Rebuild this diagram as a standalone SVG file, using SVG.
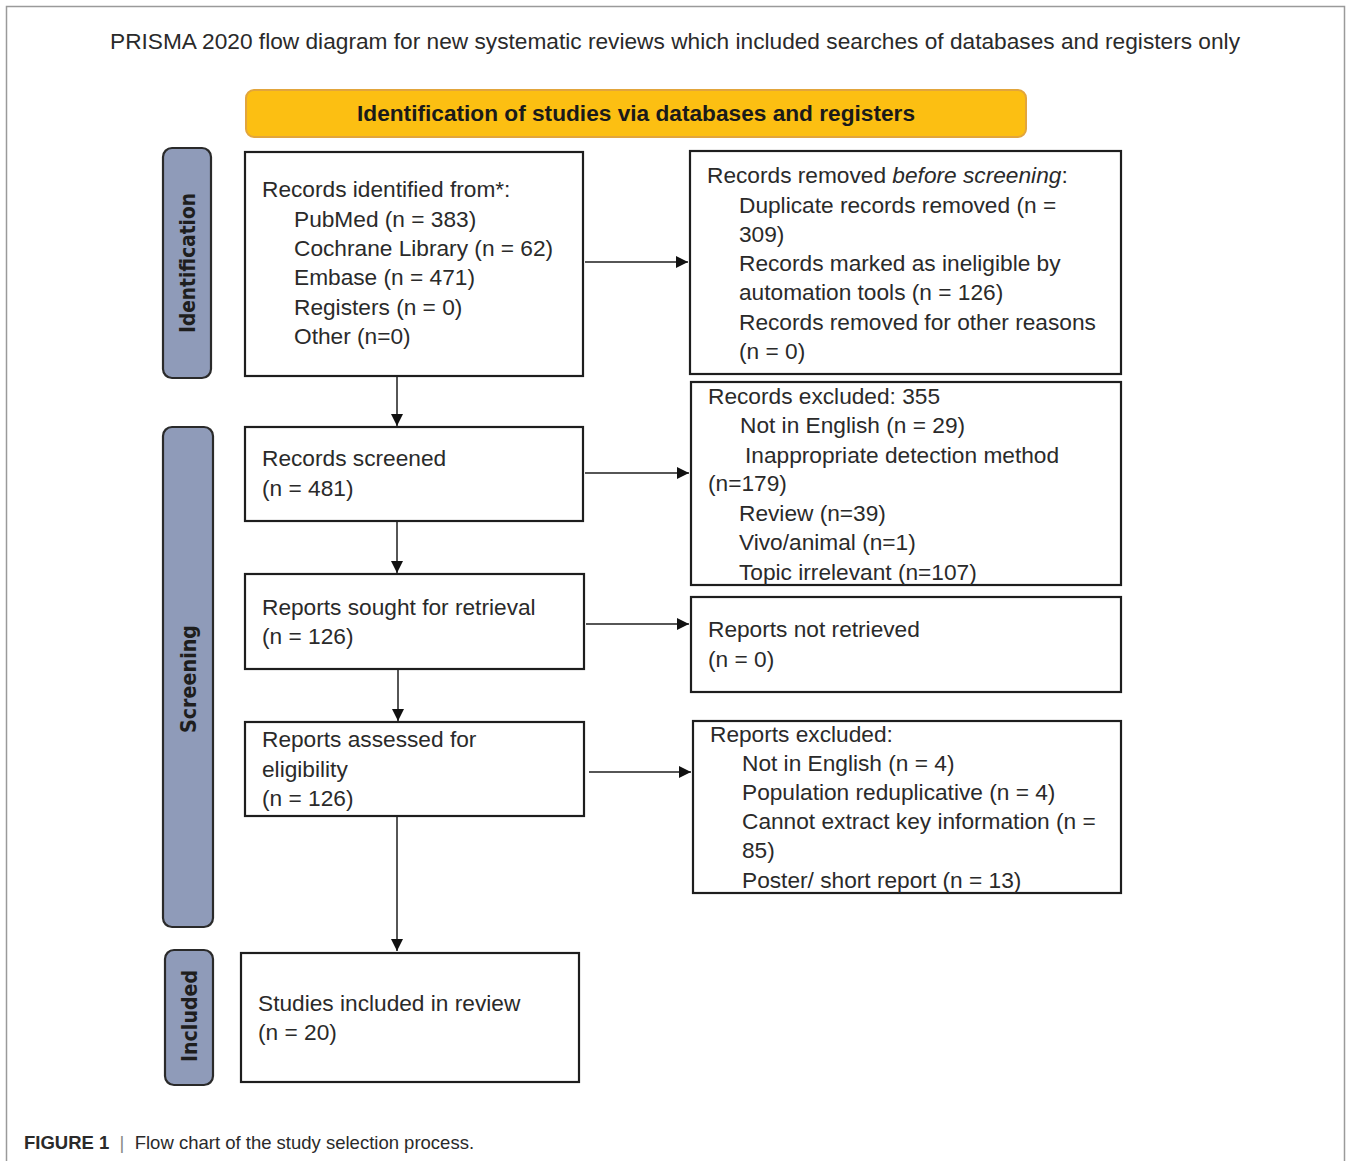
<svg xmlns="http://www.w3.org/2000/svg" width="1346" height="1161" viewBox="0 0 1346 1161">
<defs>
<marker id="arr" viewBox="0 0 10 10" refX="10" refY="5" markerWidth="12" markerHeight="12" markerUnits="userSpaceOnUse" orient="auto">
<path d="M0,0 L10,5 L0,10 z" fill="#111"/>
</marker>
<style>
.t{font-family:"Liberation Sans",Arial,sans-serif;font-size:22.7px;fill:#2a2a2a}
.box{fill:#fff;stroke:#1e1e1e;stroke-width:2.2}
.side{fill:#8f9bb9;stroke:#2a2a2a;stroke-width:2.2}
.sl{font-family:"DejaVu Sans","Liberation Sans",sans-serif;font-weight:bold;font-size:21px;fill:#1e1e1e}
.c{stroke:#1e1e1e;stroke-width:1.5;fill:none}
</style>
</defs>
<rect x="0" y="0" width="1346" height="1161" fill="#fff"/>
<path d="M6.5,1161 V6.5 H1344.5 V1161" fill="none" stroke="#9a9a9a" stroke-width="1.5"/>
<text class="t" x="675" y="49" text-anchor="middle" textLength="1130" lengthAdjust="spacingAndGlyphs" style="font-size:22px">PRISMA 2020 flow diagram for new systematic reviews which included searches of databases and registers only</text>

<g id="banner">
<rect x="246" y="90" width="780" height="47" rx="8" fill="#fcbf12" stroke="#e2a53c" stroke-width="2"/>
<text class="t" x="636" y="121" text-anchor="middle" font-weight="bold" textLength="558" lengthAdjust="spacingAndGlyphs" style="fill:#1a1a1a;font-size:22px">Identification of studies via databases and registers</text>
</g>

<g id="side-identification">
<rect class="side" x="163" y="148" width="48" height="230" rx="9"/>
<text class="sl" transform="translate(195,263) rotate(-90)" text-anchor="middle" textLength="140" lengthAdjust="spacingAndGlyphs">Identification</text>
</g>
<g id="side-screening">
<rect class="side" x="163" y="427" width="50" height="500" rx="9"/>
<text class="sl" transform="translate(196,679) rotate(-90)" text-anchor="middle" textLength="108" lengthAdjust="spacingAndGlyphs">Screening</text>
</g>
<g id="side-included">
<rect class="side" x="165" y="950" width="48" height="135" rx="9"/>
<text class="sl" transform="translate(197,1016) rotate(-90)" text-anchor="middle" textLength="92" lengthAdjust="spacingAndGlyphs">Included</text>
</g>

<g id="records-identified">
<rect class="box" x="245" y="152" width="338" height="224"/>
<text class="t" x="262" y="197">Records identified from*:</text>
<text class="t" x="294" y="227">PubMed (n = 383)</text>
<text class="t" x="294" y="256">Cochrane Library (n = 62)</text>
<text class="t" x="294" y="285">Embase (n = 471)</text>
<text class="t" x="294" y="315">Registers (n = 0)</text>
<text class="t" x="294" y="344">Other (n=0)</text>
</g>

<g id="records-removed">
<rect class="box" x="690" y="151" width="431" height="223"/>
<text class="t" x="707" y="183">Records removed <tspan font-style="italic">before screening</tspan>:</text>
<text class="t" x="739" y="213">Duplicate records removed (n =</text>
<text class="t" x="739" y="242">309)</text>
<text class="t" x="739" y="271">Records marked as ineligible by</text>
<text class="t" x="739" y="300">automation tools (n = 126)</text>
<text class="t" x="739" y="330">Records removed for other reasons</text>
<text class="t" x="739" y="359">(n = 0)</text>
</g>

<g id="records-screened">
<rect class="box" x="245" y="427" width="338" height="94"/>
<text class="t" x="262" y="466">Records screened</text>
<text class="t" x="262" y="496">(n = 481)</text>
</g>

<g id="records-excluded">
<rect class="box" x="691" y="382" width="430" height="203"/>
<text class="t" x="708" y="404">Records excluded: 355</text>
<text class="t" x="740" y="433">Not in English (n = 29)</text>
<text class="t" x="745" y="463">Inappropriate detection method</text>
<text class="t" x="708" y="491">(n=179)</text>
<text class="t" x="739" y="521">Review (n=39)</text>
<text class="t" x="739" y="550">Vivo/animal (n=1)</text>
<text class="t" x="739" y="580">Topic irrelevant (n=107)</text>
</g>

<g id="reports-sought">
<rect class="box" x="245" y="574" width="339" height="95"/>
<text class="t" x="262" y="615">Reports sought for retrieval</text>
<text class="t" x="262" y="644">(n = 126)</text>
</g>

<g id="reports-not-retrieved">
<rect class="box" x="691" y="597" width="430" height="95"/>
<text class="t" x="708" y="637">Reports not retrieved</text>
<text class="t" x="708" y="667">(n = 0)</text>
</g>

<g id="reports-assessed">
<rect class="box" x="245" y="722" width="339" height="94"/>
<text class="t" x="262" y="747">Reports assessed for</text>
<text class="t" x="262" y="777">eligibility</text>
<text class="t" x="262" y="806">(n = 126)</text>
</g>

<g id="reports-excluded">
<rect class="box" x="693" y="721" width="428" height="172"/>
<text class="t" x="710" y="742">Reports excluded:</text>
<text class="t" x="742" y="771">Not in English (n = 4)</text>
<text class="t" x="742" y="800">Population reduplicative (n = 4)</text>
<text class="t" x="742" y="829">Cannot extract key information (n =</text>
<text class="t" x="742" y="858">85)</text>
<text class="t" x="742" y="888">Poster/ short report (n = 13)</text>
</g>

<g id="studies-included">
<rect class="box" x="241" y="953" width="338" height="129"/>
<text class="t" x="258" y="1011">Studies included in review</text>
<text class="t" x="258" y="1040">(n = 20)</text>
</g>

<g id="connectors">
<line class="c" x1="397" y1="377" x2="397" y2="426" marker-end="url(#arr)"/>
<line class="c" x1="397" y1="522" x2="397" y2="573" marker-end="url(#arr)"/>
<line class="c" x1="398" y1="670" x2="398" y2="721" marker-end="url(#arr)"/>
<line class="c" x1="397" y1="817" x2="397" y2="951" marker-end="url(#arr)"/>
<line class="c" x1="585" y1="262" x2="688" y2="262" marker-end="url(#arr)"/>
<line class="c" x1="585" y1="473" x2="689" y2="473" marker-end="url(#arr)"/>
<line class="c" x1="586" y1="624" x2="689" y2="624" marker-end="url(#arr)"/>
<line class="c" x1="589" y1="772" x2="691" y2="772" marker-end="url(#arr)"/>
</g>

<g id="caption">
<text x="24" y="1149" style="font-family:'Liberation Sans',Arial,sans-serif;font-size:18.5px;fill:#2a2a2a"><tspan font-weight="bold">FIGURE 1</tspan><tspan fill="#888" xml:space="preserve">  |  </tspan>Flow chart of the study selection process.</text>
</g>
</svg>
